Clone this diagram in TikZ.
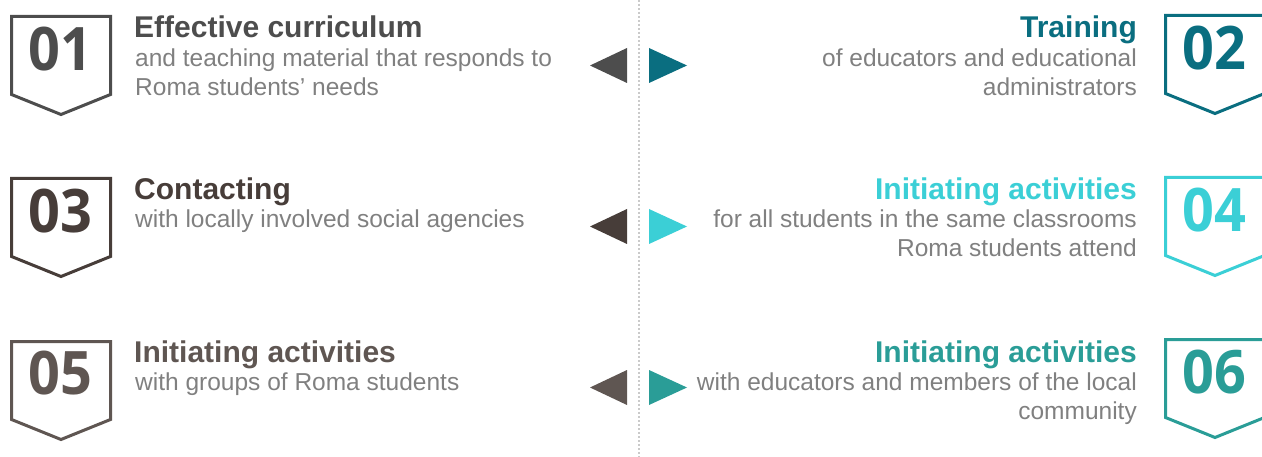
\documentclass[tikz,border=0pt]{standalone}
\usepackage{fontspec}
\setmainfont{Liberation Sans}
\newfontfamily\numfont{Open Sans}
\definecolor{cA}{HTML}{4D4D4D}
\definecolor{cB}{HTML}{0A6E80}
\definecolor{cC}{HTML}{473D39}
\definecolor{cD}{HTML}{3BCFD6}
\definecolor{cE}{HTML}{5F5652}
\definecolor{cF}{HTML}{2A9D97}
\definecolor{bodygray}{HTML}{808080}
\definecolor{dotgray}{HTML}{CACACA}
\tikzset{
  shieldline/.style={line width=3pt, line join=miter},
  numtxt/.style={font=\numfont\bfseries\fontsize{60}{60}\selectfont, inner sep=0, xscale=0.93},
  ttl/.style={font=\bfseries\fontsize{30}{36}\selectfont, inner sep=0},
  bdy/.style={font=\fontsize{24.5}{29}\selectfont, inner sep=0, text=bodygray},
}
\newcommand\myshield[3]{%
  \draw[shieldline, draw=#3] (#1,#2) -- ++(99,0) -- ++(0,78) -- ++(-49.5,20) -- ++(-49.5,-20) -- cycle;}
\begin{document}
\begin{tikzpicture}[x=1pt,y=-1pt]
\useasboundingbox (0,0) rectangle (1262,457);
% divider
\coordinate (dtop) at (639,0);
\coordinate (dbot) at (639,457);
\draw[dotgray, line width=2pt, dash pattern=on 2pt off 2pt] (dtop) -- (dbot);
% shields
\myshield{11.5}{16.5}{cA}
\myshield{1165.5}{15.5}{cB}
\myshield{11.5}{178.5}{cC}
\myshield{1165.5}{177.5}{cD}
\myshield{11.5}{341.5}{cE}
\myshield{1165.5}{339.5}{cF}
% numbers
\node[numtxt, text=cA] (n01) at (60,49) {01};
\node[numtxt, text=cB] (n02) at (1214,48) {02};
\node[numtxt, text=cC] (n03) at (60,211) {03};
\node[numtxt, text=cD] (n04) at (1214,210) {04};
\node[numtxt, text=cE] (n05) at (60,373) {05};
\node[numtxt, text=cF] (n06) at (1214,372) {06};
% triangles
\fill[cA] (627,48) -- (627,83) -- (590,65.5) -- cycle;
\fill[cB] (649,48) -- (649,83) -- (687,65.5) -- cycle;
\fill[cC] (627,209) -- (627,244) -- (590,226.5) -- cycle;
\fill[cD] (649,209) -- (649,244) -- (687,226.5) -- cycle;
\fill[cE] (627,370) -- (627,405) -- (590,387.5) -- cycle;
\fill[cF] (649,370) -- (649,405) -- (687,387.5) -- cycle;
% left texts
\node[ttl, text=cA, anchor=base west] (t1) at (134,38) {Effective curriculum};
\node[bdy, anchor=base west] (b1a) at (135,67) {and teaching material that responds to};
\node[bdy, anchor=base west] (b1b) at (135,96) {Roma students’ needs};
\node[ttl, text=cC, anchor=base west] (t3) at (134,200) {Contacting};
\node[bdy, anchor=base west] (b3a) at (135,228) {with locally involved social agencies};
\node[ttl, text=cE, anchor=base west] (t5) at (134,362) {Initiating activities};
\node[bdy, anchor=base west] (b5a) at (135,390) {with groups of Roma students};
% right texts
\node[ttl, text=cB, anchor=base east] (t2) at (1137,38) {Training};
\node[bdy, anchor=base east] (b2a) at (1137,67) {of educators and educational};
\node[bdy, anchor=base east] (b2b) at (1137,96) {administrators};
\node[ttl, text=cD, anchor=base east] (t4) at (1137,200) {Initiating activities};
\node[bdy, anchor=base east] (b4a) at (1137,228) {for all students in the same classrooms};
\node[bdy, anchor=base east] (b4b) at (1137,257) {Roma students attend};
\node[ttl, text=cF, anchor=base east] (t6) at (1137,362) {Initiating activities};
\node[bdy, anchor=base east] (b6a) at (1137,390) {with educators and members of the local};
\node[bdy, anchor=base east] (b6b) at (1137,419) {community};
\end{tikzpicture}
\end{document}
